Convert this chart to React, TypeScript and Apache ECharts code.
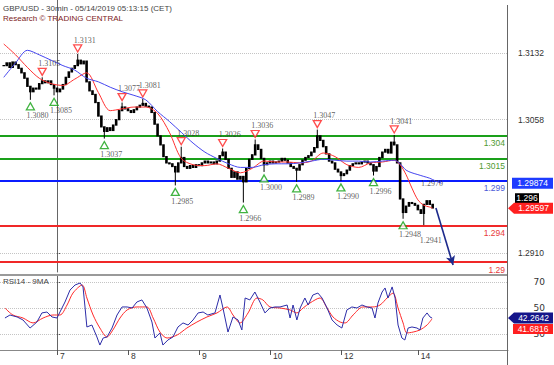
import React, { useEffect, useRef } from "react";
import * as echarts from "echarts";

// ---------------- data ----------------
// hour index of bars: 0 = 7 May 00:00 (CET), hourly closes of GBP/USD
const firstBar = -18;
const closes = [
  1.3118, 1.3121, 1.3116, 1.3122, 1.3119, 1.3115, 1.3110, 1.3104, 1.3095, 1.3089,
  1.3093, 1.3092, 1.3098, 1.3101, 1.3099, 1.3101, 1.3097, 1.3093, 1.3089, 1.3092,
  1.3097, 1.3105, 1.3111, 1.3115, 1.3118, 1.3124, 1.3120, 1.3123, 1.3100, 1.3090,
  1.3086, 1.3077, 1.3062, 1.3050, 1.3045, 1.3049, 1.3046, 1.3052, 1.3058, 1.3068,
  1.3072, 1.3070, 1.3068, 1.3066, 1.3069, 1.3072, 1.3074, 1.3076, 1.3073, 1.3072,
  1.3066, 1.3053, 1.3040, 1.3030, 1.3017, 1.3010, 1.3009, 1.3006, 1.3000, 1.3010,
  1.3016, 1.3006, 1.3004, 1.3007, 1.3005, 1.3008, 1.3007, 1.3010, 1.3012, 1.3010,
  1.3011, 1.3009, 1.3012, 1.3018, 1.3022, 1.3014, 1.3004, 1.2994, 1.3000, 1.2992,
  1.2995, 1.2989, 1.3004, 1.3014, 1.3019, 1.3030, 1.3025, 1.3015, 1.3008, 1.3010,
  1.3012, 1.3010, 1.3011, 1.3012, 1.3015, 1.3013, 1.3010, 1.3006, 1.3004, 1.3002,
  1.3008, 1.3013, 1.3016, 1.3018, 1.3022, 1.3027, 1.3040, 1.3035, 1.3028, 1.3020,
  1.3012, 1.3010, 1.3003, 1.3000, 1.2996, 1.2998, 1.3002, 1.3007, 1.3009, 1.3010,
  1.3009, 1.3011, 1.3012, 1.3010, 1.3008, 1.3001, 1.3006, 1.3016, 1.3022, 1.3025,
  1.3021, 1.3033, 1.3030, 1.3010, 1.2970, 1.2955, 1.2962, 1.2966, 1.2965, 1.2963,
  1.2958, 1.2954, 1.2964, 1.2968, 1.2964, 1.2960,
];

const pivotHighIdx = [-5, 7, 22, 29, 42, 56, 67, 88, 114];
const pivotHighVal = [1.3105, 1.3131, 1.3077, 1.3081, 1.3028, 1.3026, 1.3036, 1.3047, 1.3041];
const pivotLowIdx = [-9, -1, 16, 40, 63, 70, 81, 96, 107, 117, 124];
const pivotLowVal = [1.308, 1.3085, 1.3037, 1.2985, 1.2966, 1.3, 1.2989, 1.299, 1.2996, 1.2948, 1.2941];
const pivotLowMarked = [1, 1, 1, 1, 1, 1, 1, 1, 1, 1, 0];

const redIdx = [-18, -14, -10, -6, -2, 2, 6, 10, 14, 18, 22, 26, 30, 34, 38, 42, 46, 50, 54, 58, 62, 66, 70, 74, 78, 82, 86, 90, 94, 98, 102, 106, 110, 114, 116, 118, 120, 122, 124, 126, 127];
const redMA = [
  1.3142, 1.313, 1.3116, 1.3104, 1.3098, 1.3096, 1.3103, 1.311, 1.3088, 1.3068,
  1.307, 1.3072, 1.3072, 1.3065, 1.3044, 1.3015, 1.3008, 1.3007, 1.3009, 1.3004,
  1.2999, 1.3004, 1.3012, 1.3011, 1.3011, 1.301, 1.3012, 1.3021, 1.3017, 1.3008,
  1.3005, 1.301, 1.3011, 1.3013, 1.3008, 1.2997, 1.2982, 1.2969, 1.2963, 1.2961, 1.29597,
];
const blueIdx = [-18, -14, -10, -6, -2, 2, 6, 10, 14, 18, 22, 26, 30, 34, 38, 42, 46, 50, 54, 58, 62, 66, 70, 74, 78, 82, 86, 90, 94, 98, 102, 106, 110, 114, 116, 118, 120, 122, 124, 126, 128, 130];
const blueMA = [
  1.3105, 1.3121, 1.3135, 1.313, 1.3124, 1.3118, 1.3113, 1.3104, 1.31, 1.3094,
  1.3089, 1.3085, 1.308, 1.3067, 1.3056, 1.3044, 1.3032, 1.3022, 1.3015, 1.3009,
  1.3005, 1.3005, 1.3008, 1.3009, 1.3009, 1.301, 1.3012, 1.3014, 1.3013, 1.3012,
  1.3012, 1.3011, 1.3012, 1.3013, 1.3009, 1.3002, 1.2999, 1.2997, 1.2995, 1.2993, 1.299, 1.29874,
];

const levels = [1.304, 1.3015, 1.299, 1.294, 1.29];
const levelText = ["1.304", "1.3015", "1.299", "1.294", "1.29"];
const priceTicks = [1.3132, 1.3058, 1.291];
const dayTickIdx = [0, 24, 48, 72, 96, 122];
const dayLabels = ["7", "8", "9", "10", "12", "14"];
const rsiTicks = [30, 50, 70];

const rsiPoints = [
  [-17.6, 42.3], [-15.9, 44.6], [-13.5, 43.1], [-11.5, 40.8], [-9.1, 34.6], [-6.8, 39.2], [-5.1, 46.2], [-3.4, 46.9],
  [-1.7, 43.1], [0, 42.3], [1, 46.9], [2.7, 54.6], [4.4, 63.8], [6.1, 67.7], [7.8, 69.2], [8.8, 66.2], [9.5, 50],
  [10.1, 35.4], [11.8, 36.9], [13.5, 27.7], [14.5, 21.5], [15.6, 26.9], [16.9, 27.7], [18.6, 34.6], [20.3, 44.6],
  [22, 50.8], [23.7, 50.8], [25.4, 50], [27, 54.6], [28.7, 56.2], [30.4, 50], [32.1, 39.2], [33.1, 26.9], [34.8, 30.8],
  [35.8, 21.5], [37.5, 25.4], [39.2, 27.7], [40.9, 35.4], [42.6, 38.5], [44.3, 36.9], [46, 40.8], [47.7, 46.2],
  [49.4, 46.9], [51, 44.6], [53.4, 46.2], [55.1, 60], [56.1, 50], [57.8, 31.5], [59.5, 43.1], [61.2, 40.8],
  [62.5, 33.1], [63.6, 57.7], [65.2, 56.2], [66.9, 62.3], [68.6, 54.6], [70.3, 46.2], [72, 50], [73.7, 50.8],
  [75.4, 50.8], [77.8, 52.3], [78.8, 42.3], [79.8, 52.3], [81.1, 40.8], [82.2, 50], [83.8, 57.7], [84.9, 52.3],
  [86.5, 60], [88.2, 61.5], [89.6, 57.7], [91.3, 50], [93, 40.8], [94.7, 36.9], [96.3, 34.6], [98, 48.5],
  [99.7, 50.8], [101.4, 50], [103.1, 52.3], [104.8, 50.8], [106.5, 50], [107.5, 42.3], [108.5, 53.8], [109.9, 62.3],
  [110.9, 65.4], [111.9, 57.7], [113.3, 66.2], [114.3, 57.7], [115.3, 36.9], [116.6, 26.9], [117.6, 25.4],
  [118.7, 34.6], [120, 35.4], [121.7, 34.6], [122.7, 33.1], [123.7, 42.3], [125.1, 46.2], [126.1, 43.1], [126.8, 42.26],
];
const rsiMaPoints = [
  [-17.6, 50], [-14.9, 44.6], [-11.5, 42.3], [-8.1, 38.5], [-4.7, 42.3], [-1.4, 44.6], [1, 44.6], [3.4, 52.3],
  [5.4, 61.5], [8.5, 67.7], [10.1, 57.7], [12.2, 44.6], [14.5, 34.6], [16.9, 27.7], [18.9, 33.1], [21.3, 42.3],
  [23.7, 48.5], [27, 50.8], [30.4, 50.8], [32.5, 42.3], [34.8, 31.5], [37.2, 26.9], [40.6, 29.2], [43.9, 34.6],
  [47.3, 39.2], [50.7, 43.1], [54.1, 46.2], [57.5, 50.8], [59.5, 44.6], [61.9, 38.5], [64.6, 46.2], [67.6, 57.7],
  [69.6, 56.2], [72, 50.8], [75.4, 50], [78.8, 48.5], [81.1, 46.2], [83.2, 50], [85.5, 53.8], [88.9, 57.7],
  [91.3, 50], [93.3, 43.1], [95.7, 39.2], [97.4, 38.5], [100.1, 44.6], [103.4, 50.8], [106.8, 50.8], [109.2, 52.3],
  [111.6, 57.7], [113.6, 61.5], [115.3, 50], [117, 38.5], [118.3, 30.8], [120.4, 31.5], [122.7, 33.1], [125.1, 36.9],
  [126.8, 41.68],
];

const forecastFrom = [128.1, 1.296];
const forecastTo = [133.9, 1.28967];
const noteLabel = { t: 126.8, v: 1.29866, text: "1.2970" };

const lastBlueMA = 1.29874;
const lastPrice = 1.296;
const lastRedMA = 1.29597;
const lastRsi = 42.2642;
const lastRsiMa = 41.6816;

// ---------------- view ----------------
const X_MIN = -19.27;
const X_MAX = 152.47;
const P_MIN = 1.288891;
const P_MAX = 1.319083;
const R_MIN = 17.69;
const R_MAX = 75.38;

const levelLine = ["#1aa01a", "#1aa01a", "#0a1cff", "#f02828", "#f02828"];
const levelTextColor = ["#4f9a30", "#4f9a30", "#4b5bd8", "#e83a3a", "#e83a3a"];

export default function App() {
  const ref = useRef<HTMLDivElement>(null);

  useEffect(() => {
    const chart = echarts.init(ref.current!, null, { renderer: "svg" });

    const candleData = closes.map((c, i) => {
      const t = firstBar + i;
      const o = i === 0 ? c : closes[i - 1];
      let lo = Math.min(o, c);
      let hi = Math.max(o, c);
      const hk = pivotHighIdx.indexOf(t);
      if (hk >= 0) hi = Math.max(hi, pivotHighVal[hk]);
      const lk = pivotLowIdx.indexOf(t);
      if (lk >= 0) lo = Math.min(lo, pivotLowVal[lk]);
      return [t, o, c, lo, hi];
    });

    const levelMarks = levels.map((v, i) => ({
      yAxis: v,
      lineStyle: { color: levelLine[i], width: 2, type: "solid" },
      label: {
        show: true,
        position: "insideEndBottom",
        formatter: levelText[i],
        color: levelTextColor[i],
        fontSize: 8.5,
        distance: 3,
      },
    }));
    const gridMarks = priceTicks.map((v) => ({
      yAxis: v,
      lineStyle: { color: "#c4c4c4", width: 1, type: "dotted" },
      label: { show: false },
    }));

    const pivotLabel = {
      show: true,
      fontFamily: "Liberation Serif",
      fontSize: 8,
      color: "#333",
      formatter: (p: any) => Number(p.value[1]).toFixed(4),
    };

    const option: any = {
      animation: false,
      textStyle: { fontFamily: "Liberation Sans" },
      grid: [
        { left: 0, right: 46, top: 0, height: 272, outerBoundsMode: "none", containLabel: false },
        { left: 0, right: 46, top: 275, height: 75, outerBoundsMode: "none", containLabel: false },
      ],
      xAxis: [
        { type: "value", gridIndex: 0, min: X_MIN, max: X_MAX, show: false },
        {
          type: "value",
          gridIndex: 1,
          min: X_MIN,
          max: X_MAX,
          axisLine: { show: true, lineStyle: { color: "#888", width: 1 } },
          axisTick: { show: true, customValues: dayTickIdx, length: 5, lineStyle: { color: "#555" } },
          axisLabel: {
            customValues: dayTickIdx,
            formatter: (v: number) => dayLabels[dayTickIdx.indexOf(v)] ?? "",
            align: "left",
            margin: 1,
            padding: [0, 0, 0, 3],
            fontSize: 8.5,
            color: "#333",
          },
          splitLine: { show: false },
        },
      ],
      yAxis: [
        {
          type: "value",
          gridIndex: 0,
          position: "right",
          min: P_MIN,
          max: P_MAX,
          axisLine: { show: true, lineStyle: { color: "#666" } },
          axisTick: { show: true, customValues: priceTicks, length: 3, lineStyle: { color: "#555" } },
          axisLabel: {
            customValues: priceTicks,
            formatter: (v: number) => v.toFixed(4),
            align: "right",
            margin: 36,
            fontSize: 8.5,
            color: "#333",
          },
          splitLine: { show: false },
        },
        {
          type: "value",
          gridIndex: 1,
          position: "right",
          min: R_MIN,
          max: R_MAX,
          axisLine: { show: true, lineStyle: { color: "#666" } },
          axisTick: { show: true, customValues: rsiTicks, length: 3, lineStyle: { color: "#555" } },
          axisLabel: { show: false },
          splitLine: { show: false },
        },
      ],
      series: [
        {
          type: "custom",
          xAxisIndex: 0,
          yAxisIndex: 0,
          silent: true,
          z: 3,
          encode: { x: 0, y: [1, 2, 3, 4] },
          data: candleData,
          renderItem: (_p: any, api: any) => {
            const t = api.value(0);
            const pO = api.coord([t, api.value(1)]);
            const pC = api.coord([t, api.value(2)]);
            const pL = api.coord([t, api.value(3)]);
            const pH = api.coord([t, api.value(4)]);
            const x = pO[0];
            const top = Math.min(pO[1], pC[1]);
            const bot = Math.max(pO[1], pC[1]);
            return {
              type: "group",
              children: [
                { type: "line", shape: { x1: x, y1: pH[1], x2: x, y2: pL[1] }, style: { stroke: "#000", lineWidth: 1 } },
                { type: "rect", shape: { x: x - 1.3, y: top - 0.6, width: 2.6, height: Math.max(bot - top, 0) + 1.2 }, style: { fill: "#000" } },
              ],
            };
          },
        },
        {
          type: "line",
          name: "fastMA",
          xAxisIndex: 0,
          yAxisIndex: 0,
          data: redIdx.map((t, i) => [t, redMA[i]]),
          symbol: "none",
          smooth: 0.3,
          lineStyle: { color: "#ff3030", width: 1 },
          z: 4,
          silent: true,
        },
        {
          type: "line",
          name: "slowMA",
          xAxisIndex: 0,
          yAxisIndex: 0,
          data: blueIdx.map((t, i) => [t, blueMA[i]]),
          symbol: "none",
          smooth: 0.3,
          lineStyle: { color: "#4646f0", width: 1 },
          z: 4,
          silent: true,
          markLine: {
            silent: true,
            z: 1,
            precision: 6,
            symbol: ["none", "none"],
            data: [
              ...gridMarks,
              ...levelMarks,
              [
                { coord: forecastFrom, symbol: "none", lineStyle: { color: "#1c2a8c", width: 1.6, type: "solid" }, label: { show: false } },
                { coord: forecastTo, symbol: "arrow", symbolSize: [7, 9] },
              ],
            ],
          },
        },
        {
          type: "scatter",
          xAxisIndex: 0,
          yAxisIndex: 0,
          silent: true,
          z: 5,
          data: pivotHighIdx.map((t, i) => [t, pivotHighVal[i]]),
          symbol: "path://M0,0L10,0L5,9Z",
          symbolSize: [8, 7],
          symbolOffset: [0, -5.5],
          itemStyle: { color: "#fff", borderColor: "#ff2020", borderWidth: 1.3 },
          label: { ...pivotLabel, position: "top", distance: 0, offset: [7, 0] },
        },
        {
          type: "scatter",
          xAxisIndex: 0,
          yAxisIndex: 0,
          silent: true,
          z: 5,
          data: pivotLowIdx.map((t, i) =>
            pivotLowMarked[i]
              ? { value: [t, pivotLowVal[i]] }
              : { value: [t, pivotLowVal[i]], itemStyle: { color: "rgba(0,0,0,0)", borderColor: "rgba(0,0,0,0)" } }
          ),
          symbol: "path://M5,0L10,9L0,9Z",
          symbolSize: [8, 7],
          symbolOffset: [0, 6.5],
          itemStyle: { color: "#fff", borderColor: "#12a012", borderWidth: 1.3 },
          label: { ...pivotLabel, position: "bottom", distance: 1, offset: [7, 0] },
        },
        {
          type: "scatter",
          xAxisIndex: 0,
          yAxisIndex: 0,
          silent: true,
          z: 5,
          data: [[noteLabel.t, noteLabel.v]],
          symbolSize: 2,
          itemStyle: { color: "rgba(0,0,0,0)" },
          label: { ...pivotLabel, position: "inside", formatter: noteLabel.text },
        },
        {
          type: "line",
          xAxisIndex: 1,
          yAxisIndex: 1,
          data: rsiMaPoints,
          symbol: "none",
          smooth: 0.3,
          lineStyle: { color: "#ff2a2a", width: 1 },
          z: 3,
          silent: true,
        },
        {
          type: "line",
          xAxisIndex: 1,
          yAxisIndex: 1,
          data: rsiPoints,
          symbol: "none",
          lineStyle: { color: "#2d2da8", width: 1 },
          z: 4,
          silent: true,
          markLine: {
            silent: true,
            z: 1,
            precision: 6,
            symbol: ["none", "none"],
            label: { show: false },
            data: rsiTicks.map((v) => ({ yAxis: v, lineStyle: { color: "#c4c4c4", type: "dotted", width: 1 } })),
          },
        },
      ],
    };

    chart.setOption(option);

    const py = (v: number) => chart.convertToPixel({ yAxisIndex: 0 }, v) as number;
    const ry = (v: number) => chart.convertToPixel({ yAxisIndex: 1 }, v) as number;
    const yBlue = py(lastBlueMA);
    const yRed = py(lastRedMA);
    const yBlack = yRed - 10;
    const yRsi = ry(lastRsi);
    const yRsiMa = yRsi + 11;

    const tagText = (x: number, y: number, text: string) => ({
      type: "text",
      x,
      y,
      z: 20,
      style: { text, fill: "#fff", fontSize: 8.5, fontFamily: "Liberation Sans", align: "center", verticalAlign: "middle" },
    });
    const pointer = (y: number, fill: string) => ({
      type: "polygon",
      z: 19,
      shape: { points: [[508, y], [514, y - 5.5], [553, y - 5.5], [553, y + 5.5], [514, y + 5.5]] },
      style: { fill },
    });
    // RSI axis values drawn as a group placed by the RSI axis scale
    const rsiAxisGroup = {
      type: "group",
      z: 15,
      children: rsiTicks.map((v) => ({
        type: "text",
        z: 15,
        x: 545,
        y: ry(v),
        style: {
          text: String(v),
          fill: "#333",
          fontSize: 9,
          fontFamily: "DejaVu Sans",
          align: "right",
          verticalAlign: "middle",
        },
      })),
    };

    chart.setOption({
      graphic: {
        elements: [
          {
            type: "text", left: 3, top: 4, z: 20,
            style: { text: "GBP/USD - 30min - 05/14/2019 05:13:15 (CET)", fill: "#444", fontSize: 8, fontFamily: "Liberation Sans" },
          },
          {
            type: "text", left: 3, top: 14, z: 20,
            style: { text: "Research © TRADING CENTRAL", fill: "#7d1b1b", fontSize: 8, fontFamily: "Liberation Sans" },
          },
          {
            type: "text", left: 3, top: 277, z: 20,
            style: { text: "RSI14 - 9MA", fill: "#444", fontSize: 8, fontFamily: "Liberation Sans" },
          },
          { type: "line", z: 10, shape: { x1: 0, y1: 275, x2: 508, y2: 275 }, style: { stroke: "#9a9a9a", lineWidth: 2 } },
          { type: "line", z: 10, shape: { x1: 507.5, y1: 5, x2: 507.5, y2: 365 }, style: { stroke: "#666", lineWidth: 1 } },
          rsiAxisGroup,
          { type: "rect", z: 19, shape: { x: 512, y: yBlue - 5.5, width: 41, height: 11 }, style: { fill: "#1e3cff" } },
          tagText(532.5, yBlue, lastBlueMA.toFixed(5)),
          { type: "rect", z: 19, shape: { x: 515, y: yBlack - 5, width: 24, height: 10 }, style: { fill: "#000" } },
          tagText(527, yBlack, lastPrice.toFixed(3)),
          pointer(yRed, "#ff2020"),
          tagText(533.5, yRed, lastRedMA.toFixed(5)),
          pointer(yRsi, "#15158a"),
          tagText(533.5, yRsi, lastRsi.toFixed(4)),
          { type: "rect", z: 19, shape: { x: 513, y: yRsiMa - 5, width: 40, height: 10 }, style: { fill: "#ff2020" } },
          tagText(533, yRsiMa, lastRsiMa.toFixed(4)),
        ],
      },
    });

    return () => chart.dispose();
  }, []);

  return <div ref={ref} style={{ position: "fixed", left: 0, top: 0, width: 554, height: 365, background: "#fff" }} />;
}
